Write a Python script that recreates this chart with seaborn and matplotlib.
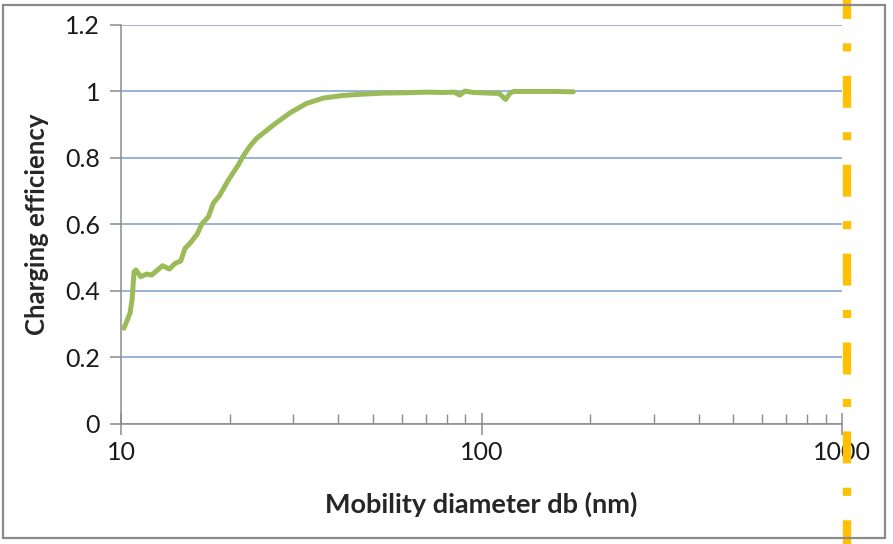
import numpy as np
import pandas as pd
import matplotlib
matplotlib.use("Agg")
import matplotlib.pyplot as plt
import seaborn as sns
from matplotlib.patches import Rectangle
from matplotlib.ticker import FixedLocator, FixedFormatter, LogLocator, NullFormatter

# ---- data ----
diameter_nm = [10.19, 10.59, 10.73, 10.87, 11.0, 11.34, 11.78, 12.16, 12.56, 13.04,
               13.62, 14.12, 14.64, 15.05, 15.53, 16.27, 16.74, 17.47, 18.03, 18.74,
               19.86, 21.15, 21.83, 22.80, 23.79, 26.46, 29.46, 32.7, 36.4, 41.3,
               46.9, 53.3, 60.7, 70.4, 78.0, 84.0, 87.0, 90.0, 95.0, 105.0,
               112.0, 116.6, 120.0, 122.6, 140.0, 160.0, 179.7]
charging_eff = [0.288, 0.333, 0.373, 0.458, 0.463, 0.443, 0.451, 0.448, 0.461, 0.476,
                0.466, 0.483, 0.490, 0.528, 0.543, 0.571, 0.601, 0.623, 0.664, 0.686,
                0.734, 0.779, 0.806, 0.836, 0.859, 0.899, 0.936, 0.964, 0.980, 0.988,
                0.992, 0.995, 0.996, 0.998, 0.997, 0.998, 0.989, 1.001, 0.997, 0.995,
                0.994, 0.976, 0.995, 1.000, 1.000, 1.000, 0.999]
marker_diameter = 1031.0
y_ticks = [0, 0.2, 0.4, 0.6, 0.8, 1.0, 1.2]
y_tick_labels = ["0", "0.2", "0.4", "0.6", "0.8", "1", "1.2"]
x_ticks = [10, 100, 1000]
x_tick_labels = ["10", "100", "1000"]

df = pd.DataFrame({"d": diameter_nm, "eff": charging_eff})

sns.set_style("white")
plt.rcParams["font.family"] = ["Lato", "DejaVu Sans"]
plt.rcParams["lines.scale_dashes"] = False

fig = plt.figure(figsize=(8.93, 5.44), dpi=100)
ax = fig.add_axes([0.1355, 0.2206, 0.8074, 0.7335])

sns.lineplot(data=df, x="d", y="eff", ax=ax, color="#9BBB59", linewidth=3.6,
             sort=False, solid_capstyle="round", solid_joinstyle="round", zorder=3)

ax.set_xscale("log")
ax.set_xlim(10, 1000)
ax.set_ylim(0, 1.2)

ax.yaxis.set_major_locator(FixedLocator(y_ticks))
ax.yaxis.set_major_formatter(FixedFormatter(y_tick_labels))
ax.xaxis.set_major_locator(FixedLocator(x_ticks))
ax.xaxis.set_major_formatter(FixedFormatter(x_tick_labels))
ax.xaxis.set_minor_locator(LogLocator(base=10, subs=np.arange(2, 10)))
ax.xaxis.set_minor_formatter(NullFormatter())

ax.grid(axis="y", color="#7C9ED2", linewidth=1.1)
ax.grid(axis="x", visible=False)
ax.set_axisbelow(True)

for s in ["top", "right"]:
    ax.spines[s].set_visible(False)
for s in ["left", "bottom"]:
    ax.spines[s].set_color("#8C8C8C")
    ax.spines[s].set_linewidth(1.1)

ax.tick_params(axis="y", which="major", direction="out", length=8, width=1.1,
               color="#8C8C8C", labelsize=18, pad=7, left=True, labelcolor="#1A1A1A")
ax.tick_params(axis="x", which="major", direction="inout", length=16, width=1.1,
               color="#8C8C8C", labelsize=18, pad=4, bottom=True, labelcolor="#1A1A1A")
ax.tick_params(axis="x", which="minor", direction="in", length=7, width=1.0,
               color="#8C8C8C", bottom=True)

ax.set_xlabel("Mobility diameter db (nm)", fontsize=19.5, fontweight="bold", labelpad=20)
ax.set_ylabel("Charging efficiency", fontsize=18.5, fontweight="bold", labelpad=12)

# orange dash-dot vertical marker spanning the whole figure height
ax.axvline(marker_diameter, ymin=1.0627, ymax=-0.31, color="#FFC000", linewidth=6.0,
           linestyle=(9.4, (23.0, 17.6, 5.8, 17.6)), dash_capstyle="butt",
           clip_on=False, zorder=5)

fig.patches.append(Rectangle((0.0034, 0.011), 0.9876, 0.9798, transform=fig.transFigure,
                             fill=False, edgecolor="#8A8A8A", linewidth=1.6, zorder=0))

fig.savefig("out.png", dpi=100)
